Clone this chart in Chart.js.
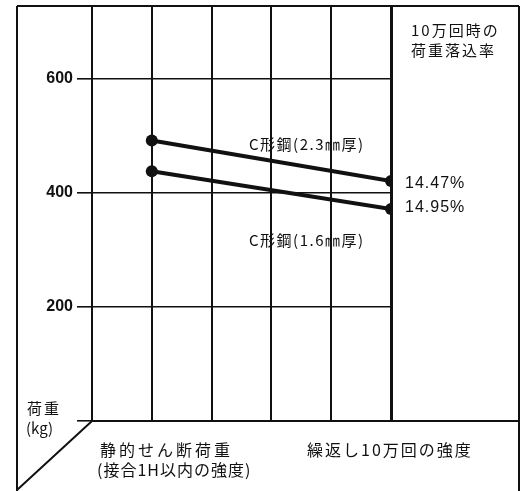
<!DOCTYPE html>
<html>
<head>
<meta charset="utf-8">
<script src="https://cdn.jsdelivr.net/npm/chart.js@4.4.1/dist/chart.umd.min.js"></script>
<style>
  html, body { margin: 0; padding: 0; background: #fff; }
  #wrap { width: 528px; height: 491px; }
</style>
</head>
<body>
<div id="wrap"><canvas id="chart"></canvas></div>
<script>
// x positions: 1 = 静的せん断荷重, 5 = 繰返し10万回
const xSteps = [1, 5];
const thick23 = [492, 421];   // C形鋼(2.3mm厚) kg
const thick16 = [438, 372];   // C形鋼(1.6mm厚) kg
const dropRates = ['14.47%', '14.95%'];
const yTicks = [200, 400, 600];

const jp = '"Noto Sans CJK JP", sans-serif';
const ink = '#111';

const framePlugin = {
    id: 'frame',
    afterDraw(chart) {
        const { ctx, chartArea, scales } = chart;
        const W = chart.width, H = chart.height;
        const L = 17, R = W - 9, T = chartArea.top;
        ctx.save();
        ctx.strokeStyle = ink;
        ctx.lineWidth = 2;
        ctx.beginPath();
        ctx.moveTo(L, T); ctx.lineTo(R, T);
        ctx.moveTo(L, T); ctx.lineTo(L, H);
        ctx.moveTo(R, T); ctx.lineTo(R, H);
        ctx.moveTo(chartArea.left, chartArea.bottom); ctx.lineTo(R, chartArea.bottom);
        ctx.moveTo(chartArea.left, chartArea.bottom); ctx.lineTo(L, H - 1);
        ctx.stroke();

        ctx.fillStyle = ink;
        ctx.textBaseline = 'middle';
        ctx.textAlign = 'left';

        // right panel heading
        ctx.font = '15px ' + jp;
        ctx.letterSpacing = '2px';
        ctx.fillText('10万回時の', 411, 30);
        ctx.fillText('荷重落込率', 411, 50);

        // drop rates next to the last points
        const x5 = scales.x.getPixelForValue(xSteps[1]);
        ctx.font = '16px "Liberation Sans", sans-serif';
        ctx.letterSpacing = '1px';
        ctx.fillText(dropRates[0], x5 + 14, scales.y.getPixelForValue(thick23[1]) + 3);
        ctx.fillText(dropRates[1], x5 + 14, scales.y.getPixelForValue(thick16[1]) - 1);

        // series labels
        ctx.font = '15px ' + jp;
        ctx.letterSpacing = '1.5px';
        ctx.fillText('C形鋼(2.3㎜厚)', 249, 144);
        ctx.fillText('C形鋼(1.6㎜厚)', 249, 240);

        // y title
        ctx.font = '15px ' + jp;
        ctx.letterSpacing = '2px';
        ctx.fillText('荷重', 27, 408);
        ctx.letterSpacing = '0px';
        ctx.fillText('(kg)', 26, 428);

        // bottom captions
        ctx.font = '16px ' + jp;
        ctx.letterSpacing = '3px';
        ctx.fillText('静的せん断荷重', 100, 450);
        ctx.letterSpacing = '1px';
        ctx.fillText('(接合1H以内の強度)', 97, 470);
        ctx.letterSpacing = '2px';
        ctx.fillText('繰返し10万回の強度', 307, 450);
        ctx.restore();
    }
};

const toPts = arr => arr.map((v, i) => ({ x: xSteps[i], y: v }));

const noPad = scale => {
    scale.paddingTop = 0;
    scale.paddingBottom = 0;
    scale.paddingLeft = 0;
    scale.paddingRight = 0;
};

new Chart(document.getElementById('chart'), {
    type: 'line',
    data: {
        datasets: [
            {
                label: 'C形鋼(2.3mm厚)',
                data: toPts(thick23),
                borderColor: ink,
                backgroundColor: ink,
                borderWidth: 4,
                pointRadius: 6,
                pointBackgroundColor: ink,
                pointBorderWidth: 0
            },
            {
                label: 'C形鋼(1.6mm厚)',
                data: toPts(thick16),
                borderColor: ink,
                backgroundColor: ink,
                borderWidth: 4,
                pointRadius: 6,
                pointBackgroundColor: ink,
                pointBorderWidth: 0
            }
        ]
    },
    options: {
        responsive: true,
        maintainAspectRatio: false,
        animation: false,
        layout: {
            autoPadding: false,
            padding: { top: 6, right: 137, bottom: 70, left: 0 }
        },
        plugins: {
            legend: { display: false },
            tooltip: { enabled: false }
        },
        scales: {
            x: {
                type: 'linear',
                min: 0,
                max: 5,
                afterFit: scale => { scale.height = 0; noPad(scale); },
                ticks: { display: false, stepSize: 1 },
                border: { display: false },
                grid: {
                    color: ink,
                    lineWidth: c => (c.tick && c.tick.value === 5 ? 3 : 2),
                    drawTicks: false
                }
            },
            y: {
                min: 0,
                max: 728,
                afterFit: scale => { scale.width = 92; noPad(scale); },
                afterBuildTicks: scale => {
                    scale.ticks = [0].concat(yTicks).map(v => ({ value: v }));
                },
                border: { display: false },
                ticks: {
                    color: ink,
                    padding: 4,
                    font: { family: '"Liberation Sans", sans-serif', size: 16, weight: 'bold' },
                    callback: v => (v === 0 ? '' : v)
                },
                grid: {
                    color: ink,
                    lineWidth: 1.6,
                    tickLength: 15
                }
            }
        }
    },
    plugins: [framePlugin]
});
</script>
</body>
</html>
